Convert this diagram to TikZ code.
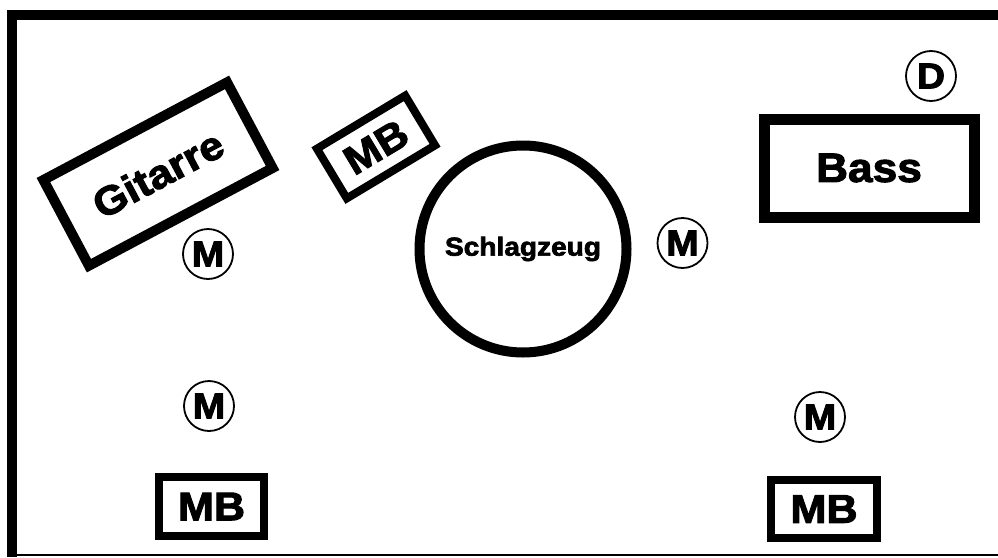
\documentclass[tikz,border=0pt]{standalone}
\usepackage{fontspec}
\setmainfont{Liberation Sans}[BoldFeatures={FakeBold=2.5,FakeStretch=1.08}]
\begin{document}
\begin{tikzpicture}[x=1pt,y=-1pt,
  box/.style={draw, line width=#1, inner sep=0pt, font=\bfseries},
  box/.default=8pt,
  mic/.style={draw, circle, line width=1.8pt, minimum size=50pt, inner sep=0pt,
    font=\fontsize{36}{36}\selectfont\bfseries},
  drum/.style={draw, circle, line width=10pt, minimum size=207pt, inner sep=0pt,
    font=\fontsize{26}{26}\selectfont\bfseries}]
\useasboundingbox (0,0) rectangle (998,557);
% frame
\draw[line width=10pt, line join=miter] (12,557) -- (12,15) -- (1004,15);
\draw[line width=2pt] (7,555) -- (998,555);
% instruments
\node[box=10pt, minimum width=208pt, minimum height=97pt, rotate=28,
  font=\fontsize{40}{40}\selectfont\bfseries] (git) at (158,174) {Gitarre};
\node[box=8pt, minimum width=103pt, minimum height=58pt, rotate=31,
  font=\fontsize{40}{40}\selectfont\bfseries] (mb1) at (376,147) {MB};
\node[drum] (drum) at (523,249) {Schlagzeug};
\node[box=11pt, minimum width=210pt, minimum height=98pt,
  font=\fontsize{41}{41}\selectfont\bfseries] (bass) at (869,168) {Bass};
\node[box=8pt, minimum width=105pt, minimum height=59pt,
  font=\fontsize{40}{40}\selectfont\bfseries] (mb2) at (211.5,506.5) {MB};
\node[box=8pt, minimum width=106pt, minimum height=58pt,
  font=\fontsize{40}{40}\selectfont\bfseries] (mb3) at (824,509) {MB};
% mics
\node[mic] (m1) at (208,254) {M};
\node[mic] (m2) at (682.5,243) {M};
\node[mic] (m3) at (209,406) {M};
\node[mic] (m4) at (820,417) {M};
\node[mic] (d) at (931,76) {D};
\end{tikzpicture}
\end{document}
